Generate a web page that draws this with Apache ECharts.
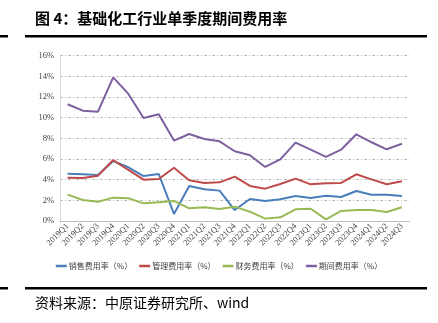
<!DOCTYPE html>
<html><head><meta charset="utf-8">
<script src="https://cdn.jsdelivr.net/npm/echarts@6/dist/echarts.min.js"></script>
<style>html,body{margin:0;padding:0;background:#fff}#c{width:438px;height:323px}</style>
</head><body><div id="c"></div>
<script>
const categories = ['2019Q1','2019Q2','2019Q3','2019Q4','2020Q1','2020Q2','2020Q3','2020Q4','2021Q1','2021Q2','2021Q3','2021Q4','2022Q1','2022Q2','2022Q3','2022Q4','2023Q1','2023Q2','2023Q3','2023Q4','2024Q1','2024Q2','2024Q3'];
const sales   = [4.58,4.52,4.45,5.80,5.20,4.35,4.55,0.68,3.39,3.07,2.94,1.06,2.13,1.94,2.10,2.42,2.23,2.45,2.32,2.90,2.55,2.55,2.42];
const admin   = [4.19,4.16,4.39,5.90,4.94,4.00,4.06,5.16,3.94,3.68,3.74,4.29,3.39,3.13,3.58,4.10,3.55,3.65,3.68,4.52,4.03,3.55,3.84];
const finance = [2.55,2.03,1.87,2.26,2.20,1.71,1.81,1.94,1.23,1.33,1.16,1.39,0.90,0.23,0.36,1.13,1.19,0.16,0.97,1.06,1.06,0.87,1.33];
const period  = [11.30,10.68,10.58,13.90,12.30,9.97,10.33,7.78,8.42,7.94,7.71,6.75,6.36,5.23,5.97,7.58,6.90,6.20,6.90,8.39,7.62,6.94,7.48];
const seriesNames = ['销售费用率（%）','管理费用率（%）','财务费用率（%）','期间费用率（%）'];
const colors = ['#4a7ebb','#be4b48','#98b954','#7d60a0'];
const titleText = '图 4：基础化工行业单季度期间费用率';
const sourceText = '资料来源：中原证券研究所、wind';

const chart = echarts.init(document.getElementById('c'), null, {renderer:'canvas'});
const data = [sales, admin, finance, period];
chart.setOption({
  animation:false,
  color: colors,
  grid:{left:60,right:28.5,top:55.7,bottom:102,containLabel:false},
  legend:{
    data: seriesNames, top:257, left:'center', icon:'rect', itemWidth:11, itemHeight:2.5, itemGap:7,
    textStyle:{fontSize:8, color:'#404040', fontFamily:'Noto Sans CJK SC', padding:[0,0,0,-3]}
  },
  xAxis:{
    type:'category', data:categories, boundaryGap:true,
    axisLine:{lineStyle:{color:'#bfbfbf',width:1}}, axisTick:{show:false},
    axisLabel:{rotate:45, fontSize:8.5, color:'#404040', fontFamily:'Liberation Serif', margin:4, interval:0}
  },
  yAxis:{
    type:'value', min:0, max:16, interval:2,
    axisLine:{show:true, lineStyle:{color:'#d9d9d9',width:1}}, axisTick:{show:false},
    axisLabel:{formatter:'{value}%', fontSize:8.5, color:'#404040', fontFamily:'Liberation Serif', margin:6},
    splitLine:{lineStyle:{color:'#bfbfbf', type:[3,2,1,2], width:1}}
  },
  series: seriesNames.map((n,i)=>({name:n, type:'line', data:data[i], symbol:'none', lineStyle:{width:2,color:colors[i]}, itemStyle:{color:colors[i]}})),
  graphic:[
    {type:'text', left:35, top:11, style:{text:titleText, fontSize:15, fontWeight:'bold', fill:'#000', fontFamily:'Noto Sans CJK SC'}},
    {type:'rect', shape:{x:25,y:35,width:402,height:2.5}, style:{fill:'#000'}},
    {type:'rect', shape:{x:0,y:35,width:8,height:2.5}, style:{fill:'#000'}},
    {type:'rect', shape:{x:25,y:287,width:402,height:2.5}, style:{fill:'#000'}},
    {type:'rect', shape:{x:0,y:287,width:8,height:2.5}, style:{fill:'#000'}},
    {type:'text', left:35, top:296, style:{text:sourceText, fontSize:14, fill:'#000', fontFamily:'Noto Sans CJK SC'}}
  ]
});
</script></body></html>
